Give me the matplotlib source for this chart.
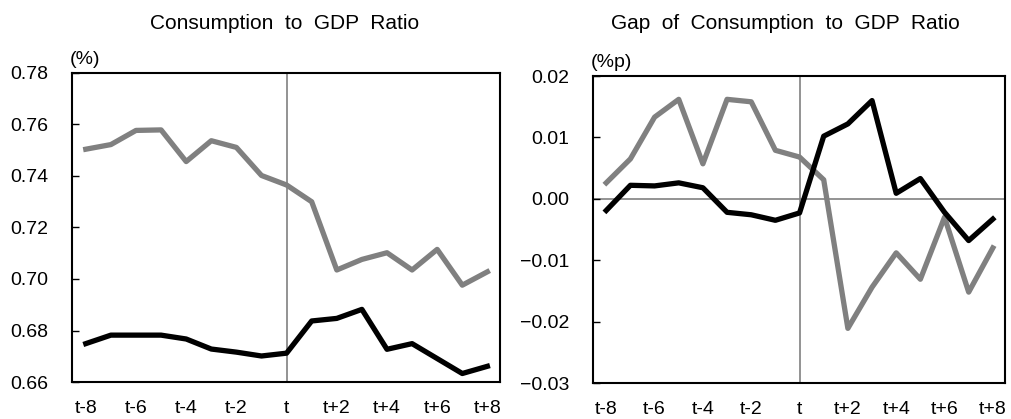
import numpy as np
import matplotlib
matplotlib.use("Agg")
import matplotlib.pyplot as plt

plt.rcParams["font.family"] = ["Liberation Sans", "DejaVu Sans"]

# quarters around the event, t-8 ... t+8
periods = ["t-8", "t-7", "t-6", "t-5", "t-4", "t-3", "t-2", "t-1", "t",
           "t+1", "t+2", "t+3", "t+4", "t+5", "t+6", "t+7", "t+8"]
tick_labels = ["t-8", "t-6", "t-4", "t-2", "t", "t+2", "t+4", "t+6", "t+8"]

# left panel: consumption to GDP ratio
ratio_gray = [0.7504, 0.7522, 0.7577, 0.7579, 0.7456, 0.7537, 0.7511, 0.7402,
              0.7365, 0.7300, 0.7035, 0.7076, 0.7102, 0.7035, 0.7115, 0.6976,
              0.7028]
ratio_black = [0.6749, 0.6782, 0.6782, 0.6782, 0.6767, 0.6728, 0.6716, 0.6701,
               0.6712, 0.6837, 0.6847, 0.6882, 0.6727, 0.6749, 0.6691, 0.6633,
               0.6661]

# right panel: gap of consumption to GDP ratio
gap_gray = [0.0026, 0.0065, 0.0133, 0.0162, 0.0057, 0.0162, 0.0158, 0.0079,
            0.0068, 0.0031, -0.0211, -0.0144, -0.0088, -0.0131, -0.0030,
            -0.0152, -0.0080]
gap_black = [-0.0019, 0.0022, 0.0021, 0.0026, 0.0018, -0.0022, -0.0026,
             -0.0035, -0.0023, 0.0102, 0.0122, 0.0160, 0.0009, 0.0033,
             -0.0022, -0.0068, -0.0033]

GRAY = "#808080"


def style_axes(ax, yticks, yfmt, unit):
    x = np.arange(len(periods)) - 8
    ax.set_xlim(-8.55, 8.5)
    ax.set_xticks(np.arange(-8, 9, 2))
    ax.set_xticklabels(tick_labels)
    ax.tick_params(axis="x", length=0, pad=13, labelsize=14)
    ax.set_yticks(yticks)
    ax.set_yticklabels([yfmt(v) for v in yticks])
    ax.set_ylim(yticks[0], yticks[-1])
    ax.tick_params(axis="y", direction="in", length=5, width=1,
                   pad=17, labelsize=14)
    for s in ax.spines.values():
        s.set_linewidth(1.5)
        s.set_color("black")
    ax.axvline(0, color=GRAY, lw=1.2, zorder=1)
    ax.text(-0.005, 1.015, unit, transform=ax.transAxes, fontsize=14,
            ha="left", va="bottom")
    return x


fig = plt.figure(figsize=(10.11, 4.19), dpi=100)

ax1 = fig.add_axes([0.0712, 0.0883, 0.4233, 0.7375])
x = style_axes(ax1, [0.66, 0.68, 0.70, 0.72, 0.74, 0.76, 0.78],
               lambda v: f"{v:.2f}", "(%)")
ax1.plot(x, ratio_gray, color=GRAY, lw=3.8, zorder=3)
ax1.plot(x, ratio_black, color="black", lw=3.8, zorder=3)
fig.text(0.281, 0.945, "Consumption  to  GDP  Ratio", ha="center",
         va="center", fontsize=15)

ax2 = fig.add_axes([0.5865, 0.0859, 0.4075, 0.7327])
x = style_axes(ax2, [-0.03, -0.02, -0.01, 0.00, 0.01, 0.02],
               lambda v: f"{v:.2f}".replace("-", "\u2212"), "(%p)")
ax2.axhline(0, color=GRAY, lw=1.2, zorder=1)
ax2.plot(x, gap_gray, color=GRAY, lw=3.8, zorder=3)
ax2.plot(x, gap_black, color="black", lw=3.8, zorder=3)
fig.text(0.777, 0.945, "Gap  of  Consumption  to  GDP  Ratio", ha="center",
         va="center", fontsize=15)

fig.savefig("out.png", dpi=100)
